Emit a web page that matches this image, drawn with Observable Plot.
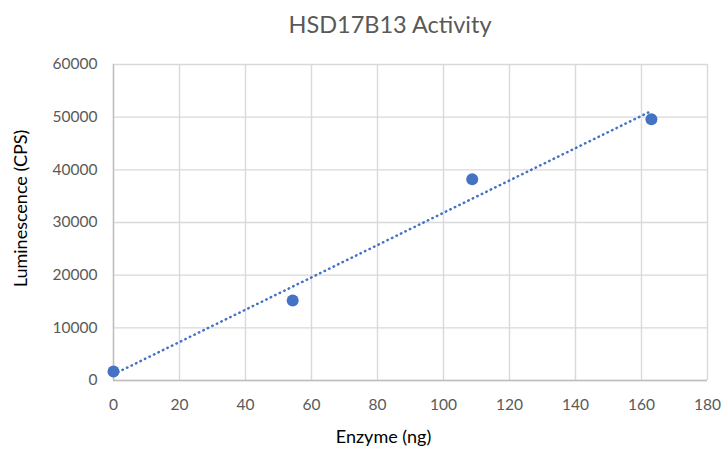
<!DOCTYPE html>
<html>
<head>
<meta charset="utf-8">
<script src="https://cdn.jsdelivr.net/npm/d3@7"></script>
<script src="https://cdn.jsdelivr.net/npm/@observablehq/plot@0.6"></script>
<style>
  body { margin: 0; background: #fff; }
  #title { height: 44px; width: 723px; box-sizing: border-box; padding-left: 57px; text-align: center;
           font-family: Lato, "Open Sans", sans-serif; font-size: 23.5px; color: #595959; line-height: 48px; }
</style>
</head>
<body>
<div id="title">HSD17B13 Activity</div>
<div id="chart"></div>
<script>
const enzyme = [0, 54.3, 108.7, 163];
const luminescence = [1700, 15200, 38200, 49600];
const xTicks = [0, 20, 40, 60, 80, 100, 120, 140, 160, 180];
const yTicks = [0, 10000, 20000, 30000, 40000, 50000, 60000];
const data = enzyme.map((x, i) => ({x, y: luminescence[i]}));
const blue = "#4472c4";
const font = "Lato, 'Open Sans', sans-serif";

const chart = Plot.plot({
  width: 723,
  height: 410,
  marginLeft: 113,
  marginRight: 16,
  marginTop: 20,
  marginBottom: 74,
  style: {fontFamily: font, fontSize: "15.5px", color: "#595959", background: "#fff"},
  x: {domain: [0, 180]},
  y: {domain: [0, 60000]},
  marks: [
    Plot.gridX(xTicks, {stroke: "#d9d9d9", strokeOpacity: 1, strokeWidth: 1.4}),
    Plot.gridY(yTicks, {stroke: "#d9d9d9", strokeOpacity: 1, strokeWidth: 1.4}),
    Plot.ruleX([0], {stroke: "#bfbfbf", strokeWidth: 1.4}),
    Plot.ruleY([0], {stroke: "#bfbfbf", strokeWidth: 1.4}),
    Plot.axisX({ticks: xTicks, tickSize: 0, tickPadding: 18, label: null, fill: "#595959"}),
    Plot.axisY({ticks: yTicks, tickSize: 0, tickPadding: 16, label: null, tickFormat: d => String(d), fill: "#595959"}),
    Plot.linearRegressionY(data, {x: "x", y: "y", ci: 0, stroke: blue, strokeWidth: 2.5, strokeDasharray: "0.5 4.5", strokeLinecap: "round"}),
    Plot.dot(data, {x: "x", y: "y", r: 6, fill: blue, stroke: "none"}),
    Plot.text(["Enzyme (ng)"], {frameAnchor: "bottom", dx: -27, dy: 62, fill: "#000", fontSize: 18, fontFamily: font}),
    Plot.text(["Luminescence (CPS)"], {frameAnchor: "left", textAnchor: "middle", dx: -92, dy: -14, rotate: -90, fill: "#000", fontSize: 18, fontFamily: font})
  ]
});
document.getElementById("chart").appendChild(chart);
</script>
</body>
</html>
